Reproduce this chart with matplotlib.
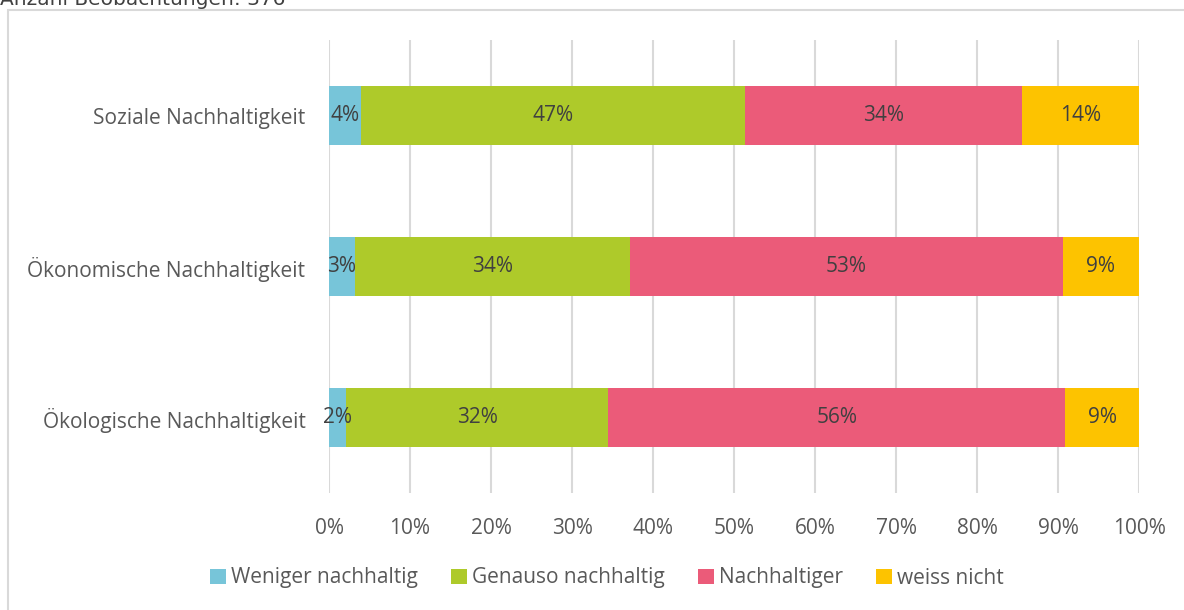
import numpy as np
import matplotlib.pyplot as plt
from matplotlib.patches import Rectangle

plt.rcParams['font.family'] = ['Open Sans', 'DejaVu Sans']

# survey shares in percent, one list per answer
categories = ["Ökologische Nachhaltigkeit", "Ökonomische Nachhaltigkeit", "Soziale Nachhaltigkeit"]
weniger = [2.1, 3.2, 4.0]
genauso = [32.4, 34.0, 47.4]
nachhaltiger = [56.4, 53.4, 34.2]
weiss_nicht = [9.1, 9.4, 14.4]
series_names = ["Weniger nachhaltig", "Genauso nachhaltig", "Nachhaltiger", "weiss nicht"]
colors = ["#77C5D9", "#AECA2A", "#EB5B79", "#FDC300"]
title = "Anzahl Beobachtungen: 376"

fig = plt.figure(figsize=(11.84, 6.10), dpi=100)
ax = fig.add_axes([0.2779, 0.1918, 0.6841, 0.7426])

# light frame round the chart
fig.patches.append(Rectangle((8 / 1184, -0.05), 1.2, 1 - 10 / 610 + 0.05,
                             transform=fig.transFigure, fill=False,
                             edgecolor="#D9D9D9", linewidth=1.5))
fig.text(0.0, 1 - 5 / 610, title, family="DejaVu Sans", fontsize=14.5,
         color="#404040", va="baseline", ha="left")

y = np.arange(len(categories))
left = np.zeros(len(categories))
for name, vals, col in zip(series_names, [weniger, genauso, nachhaltiger, weiss_nicht], colors):
    vals = np.array(vals)
    ax.barh(y, vals, left=left, height=0.396, color=col, label=name, zorder=3)
    for yi, l, v in zip(y, left, vals):
        ax.text(l + v / 2, yi, f"{v:.0f}%", ha="center", va="center",
                fontsize=15, color="#404040", zorder=4)
    left += vals

ax.set_xlim(0, 100)
ax.set_ylim(-0.5, 2.5)
ax.set_xticks(np.arange(0, 101, 10))
ax.set_xticklabels([f"{t}%" for t in range(0, 101, 10)])
ax.set_yticks(y)
ax.set_yticklabels(categories)
ax.tick_params(axis="x", length=0, pad=18, labelsize=15, labelcolor="#595959")
ax.tick_params(axis="y", length=0, pad=17, labelsize=15, labelcolor="#595959")
ax.grid(axis="x", color="#D9D9D9", linewidth=1.5, zorder=0)
for s in ax.spines.values():
    s.set_visible(False)

fig.legend(loc="center", bbox_to_anchor=(607 / 1184, 1 - 578 / 610), ncol=4, frameon=False,
           fontsize=15, labelcolor="#595959", handlelength=0.75, handleheight=0.75,
           handletextpad=0.25, columnspacing=1.6)

fig.savefig("out.png", dpi=100)
